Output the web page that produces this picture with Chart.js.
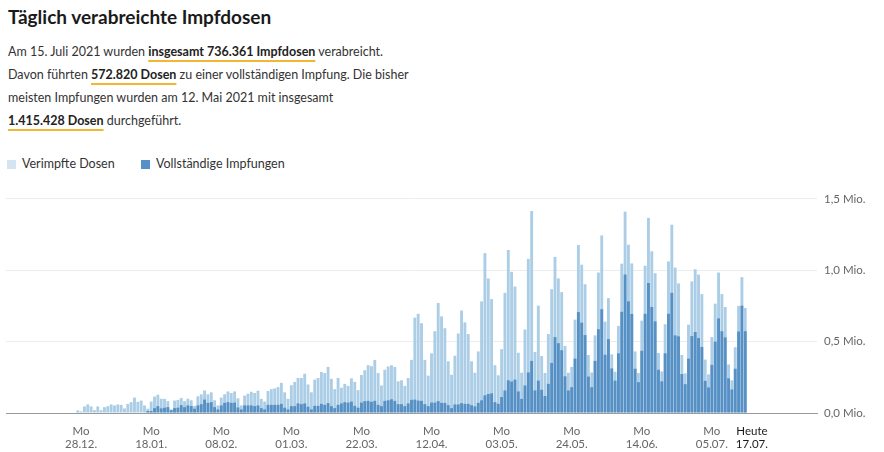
<!DOCTYPE html>
<html lang="de">
<head>
<meta charset="utf-8">
<script src="https://cdn.jsdelivr.net/npm/chart.js@4.4.0/dist/chart.umd.min.js"></script>
<style>
  body { margin: 0; width: 884px; height: 452px; background: #fff; font-family: Lato, "Noto Sans", sans-serif; color: #333; position: relative; overflow: hidden; }
  h1 { position: absolute; left: 8px; top: 5px; margin: 0; font-size: 19px; font-weight: 700; color: #1a1a1a; letter-spacing: 0; }
  .intro { position: absolute; left: 8px; top: 40px; margin: 0; font-size: 12.5px; line-height: 23px; color: #333; }
  .intro b { color: #222; text-decoration: underline; text-decoration-color: #f2b632; text-decoration-thickness: 2px; text-underline-offset: 4px; }
  .legend { position: absolute; top: 156px; left: 7px; font-size: 12.5px; color: #333; }
  .legend span { position: absolute; white-space: nowrap; line-height: 16px; }
  .legend i { position: absolute; width: 9px; height: 9px; top: 4px; }
  #wrap { position: absolute; left: 0; top: 185px; width: 884px; height: 267px; }
</style>
</head>
<body>
<h1>Täglich verabreichte Impfdosen</h1>
<p class="intro">Am 15. Juli 2021 wurden <b>insgesamt 736.361 Impfdosen</b> verabreicht.<br>
Davon führten <b>572.820 Dosen</b> zu einer vollständigen Impfung. Die bisher<br>
meisten Impfungen wurden am 12. Mai 2021 mit insgesamt<br>
<b>1.415.428 Dosen</b> durchgeführt.</p>
<div class="legend">
  <i style="left:0; background:#d4e5f2"></i><span style="left:15px">Verimpfte Dosen</span>
  <i style="left:134px; background:#5690c4"></i><span style="left:149px">Vollständige Impfungen</span>
</div>
<div id="wrap"><canvas id="impf-graph" width="884" height="267"></canvas></div>
<script>
// Tageswerte in Mio., 27.12.2020 bis 15.07.2021
const verimpfteDosen = [
  0.018, 0.011, 0.046, 0.060, 0.046, 0.020, 0.046, 0.020, 0.041, 0.048,
  0.060, 0.053, 0.060, 0.057, 0.032, 0.064, 0.076, 0.108, 0.078, 0.087,
  0.053, 0.030, 0.080, 0.115, 0.128, 0.100, 0.099, 0.083, 0.025, 0.087,
  0.092, 0.105, 0.083, 0.100, 0.089, 0.050, 0.117, 0.131, 0.158, 0.131,
  0.145, 0.089, 0.053, 0.108, 0.131, 0.151, 0.140, 0.151, 0.103, 0.053,
  0.122, 0.135, 0.149, 0.140, 0.156, 0.099, 0.080, 0.154, 0.167, 0.172,
  0.181, 0.211, 0.145, 0.099, 0.195, 0.218, 0.245, 0.245, 0.275, 0.200,
  0.145, 0.234, 0.245, 0.287, 0.280, 0.323, 0.239, 0.167, 0.245, 0.177,
  0.204, 0.190, 0.243, 0.218, 0.160, 0.266, 0.300, 0.335, 0.328, 0.372,
  0.280, 0.193, 0.303, 0.326, 0.335, 0.323, 0.222, 0.229, 0.190, 0.245,
  0.372, 0.668, 0.695, 0.629, 0.372, 0.262, 0.418, 0.573, 0.771, 0.677,
  0.594, 0.362, 0.268, 0.401, 0.557, 0.718, 0.635, 0.553, 0.362, 0.282,
  0.431, 0.782, 1.120, 0.943, 0.798, 0.335, 0.264, 0.447, 0.842, 1.142,
  0.989, 0.886, 0.422, 0.282, 0.585, 1.080, 1.415, 0.427, 0.752, 0.399,
  0.280, 0.553, 0.867, 1.094, 0.943, 0.847, 0.470, 0.282, 0.323, 0.654,
  1.177, 1.039, 0.902, 0.406, 0.284, 0.544, 0.984, 1.244, 0.640, 0.805,
  0.411, 0.289, 0.610, 1.046, 1.411, 1.179, 1.048, 0.431, 0.280, 0.647,
  1.032, 1.367, 1.133, 0.979, 0.420, 0.291, 0.622, 1.062, 1.319, 1.019,
  0.908, 0.406, 0.278, 0.619, 0.922, 1.007, 0.970, 0.833, 0.374, 0.271,
  0.532, 0.766, 0.984, 0.833, 0.743, 0.340, 0.229, 0.461, 0.750, 0.952,
  0.736
];
const vollstaendigeImpfungen = [
  0, 0, 0, 0, 0, 0, 0, 0, 0, 0,
  0, 0, 0, 0, 0, 0, 0, 0, 0, 0,
  0, 0.014, 0.014, 0.034, 0.048, 0.032, 0.037, 0.041, 0.020, 0.034,
  0.037, 0.055, 0.041, 0.053, 0.048, 0.030, 0.053, 0.062, 0.094, 0.071,
  0.076, 0.041, 0.025, 0.053, 0.071, 0.076, 0.071, 0.073, 0.039, 0.025,
  0.053, 0.053, 0.053, 0.048, 0.053, 0.034, 0.025, 0.057, 0.057, 0.057,
  0.057, 0.064, 0.037, 0.025, 0.048, 0.048, 0.067, 0.062, 0.067, 0.044,
  0.025, 0.050, 0.050, 0.064, 0.057, 0.069, 0.048, 0.034, 0.057, 0.067,
  0.076, 0.073, 0.080, 0.050, 0.037, 0.073, 0.083, 0.085, 0.078, 0.085,
  0.057, 0.048, 0.085, 0.089, 0.096, 0.085, 0.062, 0.062, 0.048, 0.067,
  0.092, 0.094, 0.087, 0.085, 0.062, 0.048, 0.073, 0.073, 0.083, 0.071,
  0.071, 0.055, 0.034, 0.060, 0.060, 0.069, 0.064, 0.064, 0.055, 0.046,
  0.071, 0.089, 0.124, 0.133, 0.138, 0.076, 0.064, 0.112, 0.158, 0.229,
  0.220, 0.234, 0.151, 0.099, 0.193, 0.284, 0.365, 0.158, 0.227, 0.163,
  0.119, 0.204, 0.351, 0.532, 0.489, 0.440, 0.257, 0.158, 0.181, 0.381,
  0.707, 0.633, 0.546, 0.255, 0.181, 0.365, 0.587, 0.727, 0.408, 0.518,
  0.312, 0.227, 0.418, 0.709, 0.970, 0.782, 0.694, 0.310, 0.216, 0.436,
  0.695, 0.911, 0.743, 0.642, 0.303, 0.222, 0.418, 0.695, 0.842, 0.544,
  0.537, 0.273, 0.202, 0.381, 0.539, 0.567, 0.525, 0.463, 0.225, 0.179,
  0.337, 0.500, 0.663, 0.573, 0.530, 0.243, 0.165, 0.310, 0.571, 0.752,
  0.573
];
const tickDates = ['28.12.', '18.01.', '08.02.', '01.03.', '22.03.', '12.04.', '03.05.', '24.05.', '14.06.', '05.07.'];
const heuteDate = '17.07.';
const yTicks = [0, 0.5, 1.0, 1.5];

// x axis runs from 06.12.2020 to 05.08.2021, data starts on 27.12.
const axisStart = new Date(2020, 11, 6);
const axisDays = 243;
const dataOffset = 21;

let labels = [];
for (let i = 0; i < axisDays; i++) {
    let d = new Date(axisStart.getFullYear(), axisStart.getMonth(), axisStart.getDate() + i);
    labels.push(String(d.getDate()).padStart(2, '0') + '.' + String(d.getMonth() + 1).padStart(2, '0') + '.');
}

function place(series) {
    return labels.map((l, i) => {
        let v = series[i - dataOffset];
        return v ? v : null;
    });
}

const ctx = document.getElementById('impf-graph').getContext('2d');
const fontTicks = { family: 'Lato, "Noto Sans", sans-serif', size: 11.5 };

const impfGraph = new Chart(ctx, {
    type: 'bar',
    data: {
        labels: labels,
        datasets: [{
            label: 'Verimpfte Dosen',
            data: place(verimpfteDosen),
            backgroundColor: '#abcde6',
            order: 2,
            grouped: false,
            barPercentage: 0.86,
            categoryPercentage: 1
        }, {
            label: 'Vollständige Impfungen',
            data: place(vollstaendigeImpfungen),
            backgroundColor: '#5690c4',
            order: 1,
            grouped: false,
            barPercentage: 0.86,
            categoryPercentage: 1
        }]
    },
    options: {
        responsive: false,
        animation: false,
        devicePixelRatio: 1,
        layout: { padding: { left: 6, right: 0, top: 10, bottom: 0 } },
        plugins: { legend: { display: false }, tooltip: { enabled: false } },
        scales: {
            x: {
                type: 'category',
                offset: true,
                grid: { display: false },
                border: { display: true, color: '#9b9b9b', width: 1 },
                ticks: {
                    autoSkip: false,
                    maxRotation: 0,
                    minRotation: 0,
                    padding: 3,
                    font: fontTicks,
                    color: (c) => (c.tick && Array.isArray(c.tick.label) && c.tick.label[0] === 'Heute') ? '#1a1a1a' : '#666',
                    callback: function (value) {
                        let l = this.getLabelForValue(value);
                        if (l === heuteDate) return ['Heute', l];
                        if (tickDates.includes(l)) return ['Mo', l];
                        return null;
                    }
                },
                afterFit: (scale) => { scale.height = 39; }
            },
            y: {
                position: 'right',
                min: 0,
                max: 1.5,
                grid: {
                    drawTicks: false,
                    color: (c) => c.tick && c.tick.value === 0 ? 'rgba(0,0,0,0)' : '#ececec',
                    lineWidth: 1
                },
                border: { display: false },
                afterBuildTicks: (scale) => { scale.ticks = yTicks.map(v => ({ value: v })); },
                ticks: {
                    padding: 7,
                    color: '#666',
                    font: fontTicks,
                    callback: (v) => v.toFixed(1).replace('.', ',') + ' Mio.'
                },
                afterFit: (scale) => { scale.width = 67; }
            }
        }
    }
});
</script>
</body>
</html>
